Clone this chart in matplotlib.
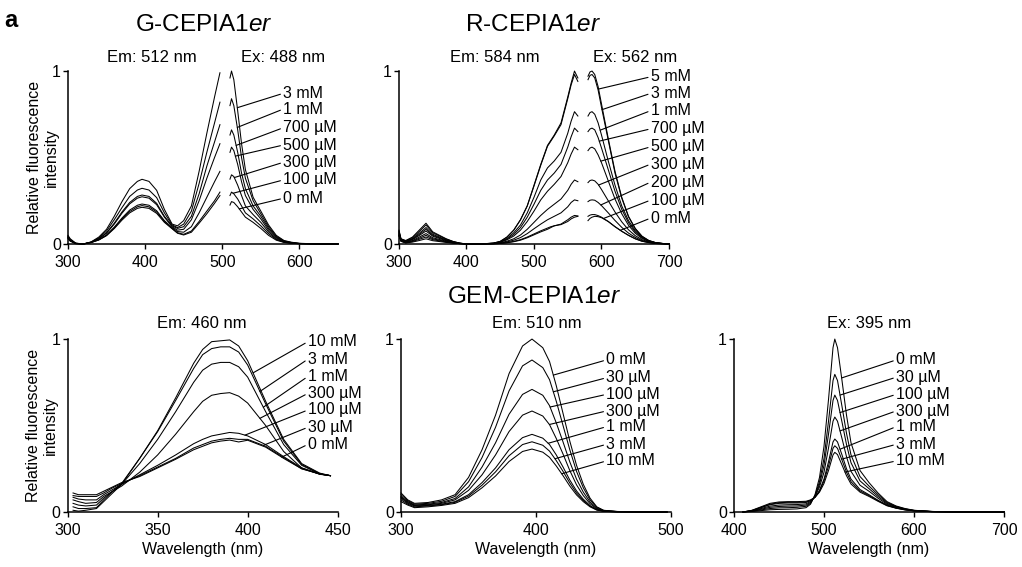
import numpy as np
import matplotlib
matplotlib.use("Agg")
import matplotlib.pyplot as plt

plt.rcParams['font.family'] = ['Liberation Sans', 'DejaVu Sans']
plt.rcParams['mathtext.fontset'] = 'custom'
plt.rcParams['mathtext.rm'] = 'Liberation Sans'
plt.rcParams['mathtext.it'] = 'Liberation Sans:italic'

# ---------------- G-CEPIA1er ----------------
g_labels = ['3 mM', '1 mM', '700 µM', '500 µM', '300 µM', '100 µM', '0 mM']
g_ex_x = [300, 303, 310, 320, 330, 340, 350, 360, 370, 380, 390, 396, 405, 415, 425, 435, 442, 450, 460, 470, 480, 490, 497]
g_ex = [
    [.05, .03, .005, 0, .012, .04, .085, .16, .245, .32, .362, .374, .362, .31, .20, .115, .105, .135, .22, .42, .64, .85, .99],
    [.045, .025, .004, 0, .011, .035, .075, .14, .21, .275, .312, .322, .312, .268, .18, .11, .095, .115, .19, .35, .53, .70, .82],
    [.04, .022, .004, 0, .01, .03, .065, .12, .185, .24, .275, .283, .275, .235, .16, .105, .09, .10, .16, .29, .45, .59, .69],
    [.04, .02, .003, 0, .01, .03, .062, .115, .178, .232, .265, .273, .265, .227, .155, .10, .08, .085, .14, .25, .38, .50, .58],
    [.035, .02, .003, 0, .009, .025, .052, .097, .15, .196, .224, .231, .224, .192, .135, .095, .072, .068, .10, .18, .27, .36, .42],
    [.035, .018, .002, 0, .009, .024, .05, .093, .144, .188, .215, .222, .215, .185, .13, .09, .065, .056, .075, .13, .19, .25, .30],
    [.03, .016, .002, 0, .008, .023, .048, .089, .138, .18, .206, .212, .206, .177, .125, .088, .062, .052, .068, .12, .175, .235, .28],
]
g_em_x = [510, 512, 515, 520, 525, 530, 540, 550, 560, 570, 580, 590, 600, 625, 650]
g_em = [
    [.96, 1.0, .95, .77, .58, .43, .27, .19, .11, .05, .02, .01, .004, 0, 0],
    [.80, .84, .80, .66, .50, .38, .25, .175, .10, .045, .018, .008, .003, 0, 0],
    [.63, .66, .63, .53, .41, .32, .22, .16, .09, .04, .016, .007, .003, 0, 0],
    [.53, .56, .54, .46, .36, .28, .20, .145, .08, .036, .014, .006, .002, 0, 0],
    [.375, .40, .39, .34, .28, .22, .17, .125, .07, .03, .012, .005, .002, 0, 0],
    [.28, .30, .29, .26, .22, .18, .145, .105, .06, .026, .01, .004, .002, 0, 0],
    [.225, .245, .24, .215, .185, .155, .125, .09, .05, .022, .009, .004, .002, 0, 0],
]
g_lead_x = [519.5, 519.5, 518, 517, 515.6, 514, 522]

# ---------------- R-CEPIA1er ----------------
r_labels = ['5 mM', '3 mM', '1 mM', '700 µM', '500 µM', '300 µM', '200 µM', '100 µM', '0 mM']
r_ex_x = [300, 303, 310, 320, 330, 340, 350, 360, 370, 380, 390, 400, 420, 440, 450, 460, 470,
          480, 490, 500, 510, 520, 525, 530, 540, 550, 555, 560, 565]
r_ex = [
    [.08, .03, .02, .04, .08, .12, .07, .05, .03, .015, .005, 0, 0,
     .005, .015, .04, .08, .14, .22, .34, .46, .57, .60, .63, .70, .85, .93, 1.0, .96],
    [.075, .028, .018, .036, .072, .11, .064, .046, .028, .014, .005, 0, 0,
     .005, .015, .04, .08, .14, .22, .335, .455, .565, .595, .625, .69, .84, .92, .98, .94],
    [.07, .025, .016, .031, .062, .095, .056, .04, .024, .012, .004, 0, 0,
     .004, .012, .032, .065, .11, .18, .27, .37, .44, .46, .48, .53, .64, .71, .765, .74],
    [.065, .024, .014, .028, .055, .085, .05, .036, .022, .011, .004, 0, 0,
     .004, .011, .028, .055, .095, .155, .23, .31, .37, .39, .41, .46, .56, .62, .67, .65],
    [.06, .022, .012, .025, .049, .075, .045, .032, .019, .01, .003, 0, 0,
     .003, .01, .024, .046, .08, .13, .19, .255, .305, .325, .345, .39, .47, .52, .56, .545],
    [.055, .02, .01, .02, .04, .06, .036, .026, .016, .008, .003, 0, 0,
     .002, .007, .016, .03, .052, .085, .125, .165, .20, .215, .23, .26, .31, .345, .37, .36],
    [.05, .018, .008, .017, .033, .05, .03, .022, .013, .007, .002, 0, 0,
     .002, .005, .012, .022, .037, .06, .088, .115, .14, .15, .16, .18, .215, .24, .255, .25],
    [.05, .016, .007, .014, .027, .04, .025, .018, .011, .006, .002, 0, 0,
     .001, .003, .008, .015, .025, .04, .058, .076, .092, .10, .105, .115, .14, .155, .165, .162],
    [.045, .015, .006, .011, .02, .03, .019, .014, .009, .005, .002, 0, 0,
     .001, .003, .007, .013, .022, .036, .053, .07, .085, .095, .105, .112, .13, .145, .155, .16],
]
r_em_x = [580, 583, 586, 590, 595, 600, 610, 620, 630, 640, 650, 660, 670, 680, 690, 700]
r_em = [
    [.97, .995, 1.0, .98, .91, .81, .61, .42, .27, .16, .09, .045, .02, .008, .003, 0],
    [.95, .975, .98, .96, .89, .79, .60, .41, .265, .157, .088, .044, .02, .008, .003, 0],
    [.74, .76, .765, .75, .70, .63, .48, .34, .22, .135, .077, .04, .018, .007, .003, 0],
    [.65, .665, .67, .66, .615, .555, .43, .305, .20, .123, .07, .036, .016, .007, .003, 0],
    [.54, .555, .56, .55, .515, .47, .365, .26, .175, .108, .062, .032, .015, .006, .002, 0],
    [.355, .367, .37, .365, .345, .315, .25, .185, .128, .082, .048, .025, .012, .005, .002, 0],
    [.245, .253, .255, .253, .24, .222, .18, .136, .096, .063, .038, .02, .01, .004, .002, 0],
    [.16, .167, .17, .17, .164, .155, .13, .10, .073, .05, .03, .016, .008, .003, .001, 0],
    [.135, .148, .155, .16, .158, .152, .13, .10, .074, .05, .03, .016, .008, .003, .001, 0],
]
r_lead_x = [595.7, 600.7, 598, 596.7, 599, 595.7, 599, 603, 628]

# ---------------- GEM-CEPIA1er ----------------
gem_ex460_labels = ['10 mM', '3 mM', '1 mM', '300 µM', '100 µM', '30 µM', '0 mM']
gem_ex460_x = [303, 306, 310, 316, 320, 325, 330, 340, 350, 360, 370, 375, 380, 385, 390, 395, 400, 410, 420, 430, 440, 446]
gem_ex460 = [
    [.01, .005, .01, .02, .06, .11, .16, .31, .47, .66, .86, .94, .985, .99, .995, .96, .875, .64, .42, .28, .225, .21],
    [.03, .02, .02, .025, .07, .12, .165, .31, .465, .645, .83, .91, .945, .955, .955, .925, .85, .625, .41, .275, .222, .21],
    [.05, .04, .035, .04, .08, .12, .16, .28, .42, .58, .75, .82, .855, .865, .865, .84, .78, .58, .39, .27, .22, .21],
    [.07, .06, .05, .055, .09, .12, .15, .23, .33, .45, .58, .64, .675, .685, .69, .67, .63, .50, .35, .255, .218, .21],
    [.085, .075, .07, .07, .10, .13, .16, .215, .27, .33, .395, .42, .44, .45, .46, .455, .44, .39, .32, .255, .22, .21],
    [.095, .09, .09, .09, .11, .14, .165, .21, .26, .31, .37, .39, .41, .42, .426, .42, .42, .38, .315, .25, .22, .21],
    [.11, .10, .10, .10, .12, .145, .17, .205, .255, .305, .36, .38, .40, .41, .416, .405, .415, .375, .31, .25, .22, .21],
]
gem_ex460_lead_x = [403, 406.8, 408.7, 406.8, 398.5, 408.7, 418.9]

gem_ex510_labels = ['0 mM', '30 µM', '100 µM', '300 µM', '1 mM', '3 mM', '10 mM']
gem_ex510_x = [300, 305, 310, 320, 330, 340, 350, 360, 370, 380, 390, 397, 405, 410, 415, 420, 425,
               430, 435, 440, 445, 450, 460, 480, 497]
gem_ex510 = [
    [.11, .07, .05, .055, .07, .10, .20, .36, .56, .80, .96, 1.0, .95, .87, .73, .57, .41, .27, .16, .08, .03, .01, .003, 0, 0],
    [.10, .065, .045, .05, .062, .09, .175, .315, .49, .70, .845, .879, .835, .765, .64, .50, .36, .235, .14, .07, .027, .009, .003, 0, 0],
    [.09, .06, .04, .045, .055, .078, .145, .26, .40, .565, .68, .709, .675, .615, .515, .405, .29, .19, .115, .058, .022, .008, .002, 0, 0],
    [.085, .055, .038, .042, .05, .07, .125, .215, .33, .465, .56, .584, .555, .505, .425, .335, .24, .157, .095, .048, .018, .006, .002, 0, 0],
    [.08, .05, .035, .038, .045, .06, .10, .17, .255, .36, .43, .449, .427, .39, .33, .26, .185, .122, .074, .037, .014, .005, .001, 0, 0],
    [.07, .045, .03, .035, .042, .056, .092, .155, .232, .325, .39, .406, .386, .352, .297, .235, .168, .11, .067, .034, .013, .004, .001, 0, 0],
    [.06, .04, .025, .03, .038, .05, .083, .14, .208, .292, .35, .364, .346, .316, .266, .21, .15, .099, .06, .03, .011, .004, .001, 0, 0],
]
gem_ex510_lead_x = [412.8, 412.8, 410.4, 409.9, 409, 414, 419]

gem_em_labels = ['0 mM', '30 µM', '100 µM', '300 µM', '1 mM', '3 mM', '10 mM']
gem_em_x = [410, 420, 430, 440, 450, 460, 470, 480, 485, 490, 495, 500, 505, 510, 512, 515, 520, 525,
            530, 540, 550, 560, 570, 580, 590, 600, 620, 650, 700]
gem_em = [
    [0, .003, .008, .013, .015, .016, .018, .025, .045, .10, .20, .38, .65, .95, 1.0, .95, .76, .56,
     .40, .24, .17, .11, .06, .035, .02, .01, .003, 0, 0],
    [0, .005, .012, .02, .024, .025, .027, .033, .05, .095, .175, .31, .525, .76, .796, .76, .61, .455,
     .33, .205, .15, .10, .055, .032, .018, .009, .003, 0, 0],
    [0, .006, .016, .027, .032, .034, .035, .04, .055, .09, .16, .27, .45, .645, .676, .645, .52, .39,
     .285, .18, .135, .09, .05, .03, .017, .009, .003, 0, 0],
    [0, .007, .02, .034, .04, .042, .043, .047, .06, .09, .145, .23, .37, .525, .549, .525, .425, .32,
     .235, .155, .12, .08, .045, .027, .015, .008, .002, 0, 0],
    [0, .008, .025, .042, .05, .052, .052, .055, .065, .085, .125, .19, .29, .405, .422, .405, .33, .25,
     .19, .13, .10, .068, .04, .024, .014, .007, .002, 0, 0],
    [0, .009, .027, .045, .054, .056, .056, .058, .067, .085, .12, .18, .265, .368, .383, .368, .30, .23,
     .175, .122, .095, .065, .038, .023, .013, .007, .002, 0, 0],
    [0, .01, .03, .05, .058, .06, .06, .062, .07, .085, .115, .165, .24, .33, .345, .332, .272, .21,
     .162, .115, .09, .062, .036, .022, .012, .006, .002, 0, 0],
]
gem_em_lead_x = [519.6, 517.8, 517.8, 517.8, 517.8, 519.6, 523.3]

FS = 11.5
LW = 0.75


def setup(ax, xlim, xticks):
    for s in ['top', 'right']:
        ax.spines[s].set_visible(False)
    for s in ['left', 'bottom']:
        ax.spines[s].set_linewidth(1.1)
    ax.set_xlim(*xlim)
    ax.set_ylim(0, 1)
    ax.set_xticks(xticks)
    ax.set_yticks([0, 1])
    ax.set_yticklabels(['0', '1'])
    ax.tick_params(direction='out', length=3.5, width=1, labelsize=FS)
    ax.tick_params(axis='x', pad=4.5)
    ax.tick_params(axis='y', pad=1.5)


def curves(ax, xs, ys_list):
    for ys in ys_list:
        ax.plot(xs, ys, color='k', lw=LW, clip_on=False)


def leaders(ax, xs, ys_list, labels, lead_x, text_x, text_y):
    for ys, lab, lx, ty in zip(ys_list, labels, lead_x, text_y):
        ly = np.interp(lx, xs, ys)
        ax.annotate(lab, xy=(lx, ly), xytext=(text_x, ty), textcoords='data',
                    ha='left', va='center', fontsize=FS, annotation_clip=False,
                    arrowprops=dict(arrowstyle='-', lw=0.8, color='k',
                                    shrinkA=0, shrinkB=0, relpos=(0, 0.5)))


fig = plt.figure(figsize=(10.22, 5.67), dpi=100)

W = 0.2642
H = 0.305
ax1 = fig.add_axes([0.0665, 0.5697, W, H])
ax2 = fig.add_axes([0.3904, 0.5697, W, H])
ax3 = fig.add_axes([0.0662, 0.0970, W, H])
ax4 = fig.add_axes([0.3924, 0.0970, W, H])
ax5 = fig.add_axes([0.7182, 0.0970, W, H])

# G-CEPIA1er
setup(ax1, (300, 650), [300, 400, 500, 600])
curves(ax1, g_ex_x, g_ex)
curves(ax1, g_em_x, g_em)
leaders(ax1, g_em_x, g_em, g_labels, g_lead_x, 579,
        [.871, .78, .672, .572, .472, .37, .264])
ax1.text(0.309, 1.081, 'Em: 512 nm', transform=ax1.transAxes, ha='center', va='center', fontsize=12)
ax1.text(0.795, 1.081, 'Ex: 488 nm', transform=ax1.transAxes, ha='center', va='center', fontsize=12)
ax1.set_ylabel('Relative fluorescence\nintensity', fontsize=FS, linespacing=1.15)
ax1.yaxis.set_label_coords(-0.035, 0.5)

# R-CEPIA1er
setup(ax2, (300, 700), [300, 400, 500, 600, 700])
curves(ax2, r_ex_x, r_ex)
curves(ax2, r_em_x, r_em)
leaders(ax2, r_em_x, r_em, r_labels, r_lead_x, 673,
        [.967, .871, .771, .666, .562, .462, .358, .254, .15])
ax2.text(0.356, 1.081, 'Em: 584 nm', transform=ax2.transAxes, ha='center', va='center', fontsize=12)
ax2.text(0.875, 1.081, 'Ex: 562 nm', transform=ax2.transAxes, ha='center', va='center', fontsize=12)

# GEM-CEPIA1er, Em 460
setup(ax3, (300, 450), [300, 350, 400, 450])
curves(ax3, gem_ex460_x, gem_ex460)
leaders(ax3, gem_ex460_x, gem_ex460, gem_ex460_labels, gem_ex460_lead_x, 433.5,
        [.985, .884, .784, .686, .59, .49, .391])
ax3.text(0.497, 1.092, 'Em: 460 nm', transform=ax3.transAxes, ha='center', va='center', fontsize=12)
ax3.set_ylabel('Relative fluorescence\nintensity', fontsize=FS, linespacing=1.15)
ax3.yaxis.set_label_coords(-0.035, 0.5)

# GEM-CEPIA1er, Em 510
setup(ax4, (300, 500), [300, 400, 500])
curves(ax4, gem_ex510_x, gem_ex510)
leaders(ax4, gem_ex510_x, gem_ex510, gem_ex510_labels, gem_ex510_lead_x, 452,
        [.879, .776, .68, .584, .493, .391, .295])
ax4.text(0.504, 1.092, 'Em: 510 nm', transform=ax4.transAxes, ha='center', va='center', fontsize=12)

# GEM-CEPIA1er, Ex 395
setup(ax5, (400, 700), [400, 500, 600, 700])
curves(ax5, gem_em_x, gem_em)
leaders(ax5, gem_em_x, gem_em, gem_em_labels, gem_em_lead_x, 580,
        [.879, .779, .68, .584, .493, .391, .295])
ax5.text(0.50, 1.092, 'Ex: 395 nm', transform=ax5.transAxes, ha='center', va='center', fontsize=12)

for ax in (ax3, ax4, ax5):
    ax.set_xlabel('Wavelength (nm)', fontsize=FS, labelpad=3)

fig.text(0.1996, 0.956, 'G-CEPIA1$\\mathit{er}$', ha='center', va='center', fontsize=17.5)
fig.text(0.5218, 0.956, 'R-CEPIA1$\\mathit{er}$', ha='center', va='center', fontsize=17.5)
fig.text(0.5225, 0.4767, 'GEM-CEPIA1$\\mathit{er}$', ha='center', va='center', fontsize=17.5)
fig.text(0.004, 0.985, 'a', ha='left', va='top', fontsize=17, fontweight='bold')

fig.savefig('out.png', dpi=100)
